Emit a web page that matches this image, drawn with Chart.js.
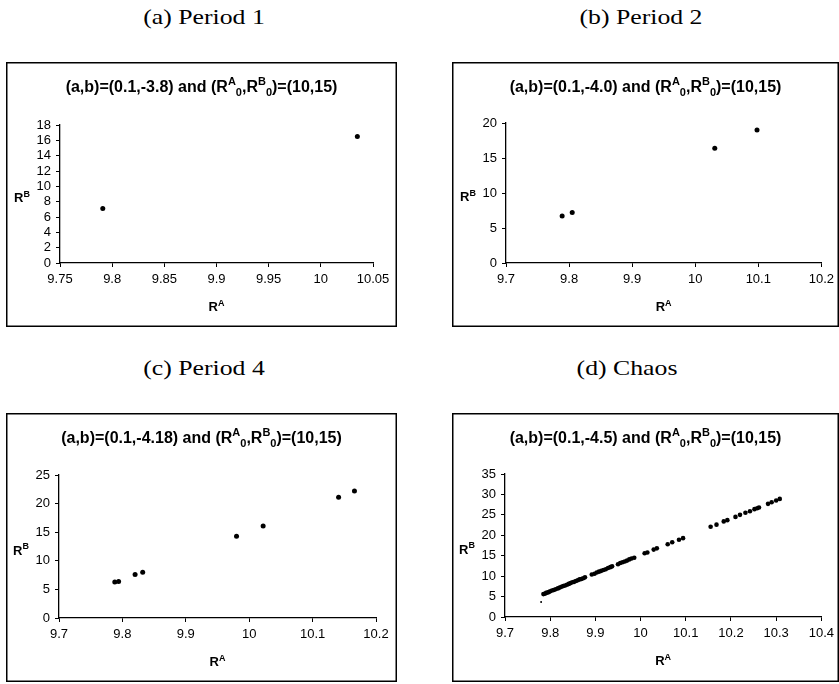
<!DOCTYPE html>
<html>
<head>
<meta charset="utf-8">
<script src="https://cdn.jsdelivr.net/npm/chart.js@4"></script>
<style>
  body { margin: 0; background: #fff; }
  #page { position: relative; width: 839px; height: 684px; overflow: hidden; }
  .caption { position: absolute; font: 22px "Liberation Serif", "Times New Roman", serif; line-height: 22px; color: #000; transform: translateX(-50%) scaleX(1.17); white-space: nowrap; }
  canvas { position: absolute; }
</style>
</head>
<body>
<div id="page">
  <div class="caption" id="cap0" style="left:204px; top:6px"></div>
  <div class="caption" id="cap1" style="left:641px; top:6px"></div>
  <div class="caption" id="cap2" style="left:204px; top:357px"></div>
  <div class="caption" id="cap3" style="left:627px; top:357px"></div>
  <canvas id="c0" width="391" height="265" style="left:6px; top:62px"></canvas>
  <canvas id="c1" width="387" height="265" style="left:452px; top:62px"></canvas>
  <canvas id="c2" width="391" height="269" style="left:6px; top:413px"></canvas>
  <canvas id="c3" width="387" height="269" style="left:452px; top:413px"></canvas>
</div>
<script>
// --- data ---
const panelCaptions = ['(a) Period 1', '(b) Period 2', '(c) Period 4', '(d) Chaos'];
const paramA = '0.1';
const paramB = ['-3.8', '-4.0', '-4.18', '-4.5'];
const initRA = '10', initRB = '15';

const xMin = [9.75, 9.7, 9.7, 9.7];
const xMax = [10.05, 10.2, 10.2, 10.4];
const xStep = [0.05, 0.1, 0.1, 0.1];
const yMax = [18, 20, 25, 35];
const yStep = [2, 5, 5, 5];

const period1X = [9.791, 10.035];
const period1Y = [7.1, 16.5];

const period2X = [9.789, 9.805, 10.031, 10.098];
const period2Y = [6.7, 7.2, 16.4, 19.0];

const period4X = [9.788, 9.794, 9.820, 9.832, 9.980, 10.022, 10.141, 10.166];
const period4Y = [6.3, 6.4, 7.6, 8.0, 14.3, 16.1, 21.1, 22.2];

const chaosX = [9.780, 9.785, 9.788, 9.791, 9.794, 9.797, 9.800, 9.804, 9.808, 9.812, 9.817,
  9.821, 9.825, 9.829, 9.833, 9.837, 9.841, 9.845, 9.849, 9.853, 9.857, 9.861, 9.865,
  9.869, 9.873, 9.877, 9.892, 9.898, 9.903, 9.908, 9.913, 9.918, 9.923, 9.928, 9.933,
  9.937, 9.950, 9.955, 9.960, 9.965, 9.970, 9.975, 9.980, 9.986, 10.009, 10.015, 10.029,
  10.036, 10.060, 10.070, 10.085, 10.094, 10.155, 10.168, 10.184, 10.192, 10.210, 10.220,
  10.232, 10.242, 10.252, 10.258, 10.262, 10.282, 10.290, 10.300, 10.308];
const chaosY = [3.7, 5.6, 5.7, 5.9, 6.0, 6.1, 6.3, 6.5, 6.6, 6.8, 7.0,
  7.2, 7.4, 7.6, 7.7, 7.9, 8.1, 8.3, 8.5, 8.6, 8.8, 9.0, 9.2,
  9.3, 9.5, 9.7, 10.4, 10.6, 10.9, 11.1, 11.3, 11.5, 11.7, 12.0, 12.2,
  12.4, 12.9, 13.2, 13.4, 13.6, 13.8, 14.1, 14.3, 14.5, 15.6, 15.8, 16.5,
  16.8, 17.8, 18.3, 18.9, 19.3, 22.1, 22.6, 23.4, 23.7, 24.5, 25.0,
  25.5, 25.9, 26.4, 26.6, 26.8, 27.7, 28.1, 28.5, 28.9];

const seriesX = [period1X, period2X, period4X, chaosX];
const seriesY = [period1Y, period2Y, period4Y, chaosY];

// --- layout of each panel (plot area inside its canvas) ---
const areas = [
  { l: 54, t: 63, r: 367, b: 201 },
  { l: 54, t: 61, r: 371, b: 201 },
  { l: 53, t: 62, r: 370, b: 205 },
  { l: 53, t: 61, r: 370, b: 204 }
];
const Y_AXIS_W = 30, X_AXIS_H = 24;
const FONT = '"Liberation Sans", Arial, sans-serif';

// draws text pieces with superscripts/subscripts
function drawRich(ctx, parts, x, y, size, bold) {
  const w = bold ? 'bold ' : '';
  const fontFor = p => w + (p.sup || p.sub ? Math.round(size * 0.68) : size) + 'px ' + FONT;
  let total = 0;
  parts.forEach(p => { ctx.font = fontFor(p); total += ctx.measureText(p.t).width; });
  let cx = x - total / 2;
  ctx.textAlign = 'left';
  ctx.textBaseline = 'alphabetic';
  parts.forEach(p => {
    ctx.font = fontFor(p);
    let dy = 0;
    if (p.sup) dy = -size * 0.42;
    if (p.sub) dy = size * 0.22;
    ctx.fillText(p.t, cx, y + dy);
    cx += ctx.measureText(p.t).width;
  });
}

const panelText = {
  id: 'panelText',
  afterDraw(chart, args, opts) {
    const ctx = chart.ctx;
    const a = chart.chartArea;
    ctx.save();
    ctx.fillStyle = '#000';
    // frame
    ctx.strokeStyle = '#000';
    ctx.lineWidth = 1.5;
    ctx.strokeRect(0.75, 0.75, chart.width - 1.5, chart.height - 1.5);
    // title
    drawRich(ctx, [
      { t: '(a,b)=(' + paramA + ',' + paramB[opts.idx] + ') and (R' },
      { t: 'A', sup: true }, { t: '0', sub: true }, { t: ',R' },
      { t: 'B', sup: true }, { t: '0', sub: true },
      { t: ')=(' + initRA + ',' + initRB + ')' }
    ], chart.width / 2, 30, 16, true);
    // axis titles
    drawRich(ctx, [{ t: 'R' }, { t: 'A', sup: true }], (a.left + a.right) / 2, a.bottom + 48, 13, true);
    drawRich(ctx, [{ t: 'R' }, { t: 'B', sup: true }], a.left - 38, (a.top + a.bottom) / 2 + 8, 13, true);
    ctx.restore();
  }
};

const fmt = v => String(Number(v.toFixed(2)));

for (let i = 0; i < 4; i++) {
  document.getElementById('cap' + i).textContent = panelCaptions[i];
  const canvas = document.getElementById('c' + i);
  const ar = areas[i];
  const pts = seriesX[i].map((x, k) => ({ x: x, y: seriesY[i][k] }));
  const radii = pts.map((p, k) => (i === 3 && k === 0) ? 1 : (i === 3 ? 2.3 : 2.5));

  new Chart(canvas, {
    type: 'scatter',
    data: {
      datasets: [{
        data: pts,
        pointRadius: radii,
        pointBackgroundColor: '#000',
        pointBorderWidth: 0,
        pointHoverRadius: radii
      }]
    },
    options: {
      responsive: false,
      animation: false,
      devicePixelRatio: 1,
      events: [],
      layout: {
        padding: {
          left: ar.l - Y_AXIS_W,
          top: ar.t,
          right: canvas.width - ar.r,
          bottom: canvas.height - ar.b - X_AXIS_H
        }
      },
      plugins: {
        legend: { display: false },
        tooltip: { enabled: false },
        panelText: { idx: i }
      },
      scales: {
        x: {
          type: 'linear',
          min: xMin[i],
          max: xMax[i],
          afterFit: s => { s.height = X_AXIS_H; },
          grid: { drawOnChartArea: false, drawTicks: true, tickLength: 4, color: '#000', lineWidth: 1 },
          border: { display: true, color: '#000', width: 1.3 },
          ticks: {
            stepSize: xStep[i],
            maxRotation: 0,
            autoSkip: false,
            padding: 5,
            color: '#000',
            font: { family: FONT, size: 13 },
            callback: v => fmt(v)
          }
        },
        y: {
          type: 'linear',
          min: 0,
          max: yMax[i],
          afterFit: s => { s.width = Y_AXIS_W; },
          grid: { drawOnChartArea: false, drawTicks: true, tickLength: 4, color: '#000', lineWidth: 1 },
          border: { display: true, color: '#000', width: 1.3 },
          ticks: {
            stepSize: yStep[i],
            autoSkip: false,
            padding: 5,
            color: '#000',
            font: { family: FONT, size: 13 },
            callback: v => fmt(v)
          }
        }
      }
    },
    plugins: [panelText]
  });
}
</script>
</body>
</html>
